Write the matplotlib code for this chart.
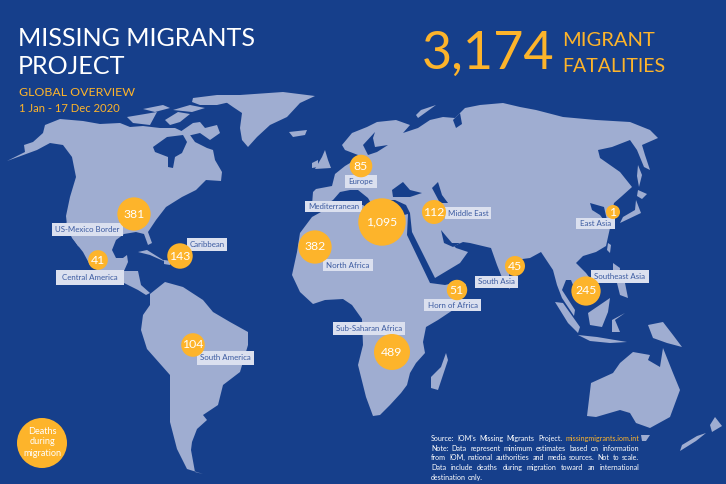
import numpy as np
import matplotlib
matplotlib.use('Agg')
import matplotlib.pyplot as plt
from matplotlib.patches import Circle, Polygon, Rectangle

# Values shown on the map
regions = ['Mediterranean', 'Sub-Saharan Africa', 'North Africa', 'US-Mexico Border',
           'Southeast Asia', 'Caribbean', 'Middle East', 'South America', 'Europe',
           'Horn of Africa', 'South Asia', 'Central America', 'East Asia']
deaths = [1095, 489, 382, 381, 245, 143, 112, 104, 85, 51, 45, 41, 1]
death_labels = ['1,095', '489', '382', '381', '245', '143', '112', '104', '85', '51', '45', '41', '1']

# Where each bubble sits on the map (pixels of the 726x484 image)
bubble_x = [382, 392, 315, 134, 586, 180, 434, 193, 361, 457, 515, 98, 613]
bubble_y = [222, 352, 247, 214, 291, 256, 212, 345, 166, 290, 266, 260, 212]

# Label boxes: left, right, top, bottom
box_left = [305, 333, 323, 52, 591, 187, 445, 197, 345, 424, 475, 56, 576]
box_right = [362, 405, 373, 123, 649, 227, 491, 254, 377, 481, 518, 124, 615]
box_top = [201, 322, 259, 223, 270, 238, 207, 351, 175, 299, 276, 270, 218]
box_bottom = [212, 335, 271, 236, 283, 251, 219, 365, 188, 311, 288, 285, 229]

# Rough land outlines
land = [
    # North America
    [(7,161),(25,152),(24,145),(33,142),(43,133),(45,125),(60,119),(83,121),(100,124),(120,123),
     (130,127),(143,126),(160,128),(175,128),(190,135),(195,142),(207,148),(213,150),(215,160),
     (222,172),(221,181),(206,180),(196,190),(182,197),(166,207),(156,220),(148,232),(152,243),
     (148,245),(144,234),(136,232),(124,234),(116,240),(112,250),(116,258),(123,258),(127,255),
     (128,262),(124,271),(138,271),(141,285),(150,293),(146,295),(138,290),(130,286),(122,282),
     (106,276),(90,265),(83,252),(72,238),(67,225),(66,216),(70,197),(76,177),(72,157),(63,145),
     (50,143),(37,150)],
    # Baja California
    [(66,222),(74,232),(82,248),(78,246),(70,234)],
    # Greenland
    [(223,100),(240,95),(283,92),(315,96),(300,103),(287,117),(270,125),(257,137),(248,147),
     (242,140),(240,128),(242,113),(233,107)],
    # Arctic islands
    [(180,132),(193,123),(200,122),(205,128),(217,125),(220,133),(210,140),(200,133),(183,137)],
    [(127,117),(157,112),(150,125),(133,123)],
    [(143,109),(163,105),(170,108),(155,112)],
    [(165,120),(178,112),(190,114),(180,122),(170,125)],
    [(193,98),(217,95),(248,95),(230,102),(217,105),(200,105),(192,102)],
    [(173,110),(190,105),(205,108),(192,112)],
    # Iceland
    [(289,132),(307,130),(305,135),(293,137)],
    # Great Britain and Ireland
    [(325,150),(328,160),(331,168),(315,169),(322,157)],
    [(312,163),(318,160),(318,167),(312,168)],
    # Eurasia
    [(313,192),(316,189),(332,186),(335,174),(345,166),(355,160),(358,155),(345,150),(342,145),
     (352,133),(367,127),(377,122),(396,120),(410,125),(403,133),(418,128),(430,120),(443,117),
     (455,118),(465,108),(480,105),(503,103),(520,107),(536,110),(563,117),(596,120),(630,122),
     (650,130),(658,138),(642,145),(645,155),(650,170),(644,167),(637,150),(630,140),(612,147),
     (598,150),(600,158),(620,172),(632,187),(622,196),(614,203),(611,217),(607,220),(604,207),
     (590,203),(592,210),(600,215),(610,228),(606,246),(596,252),(583,256),(576,263),(586,273),
     (597,288),(588,303),(578,297),(571,280),(566,280),(562,290),(575,310),(574,316),(562,298),
     (557,285),(553,270),(541,252),(530,258),(515,260),(509,275),(510,289),(505,285),(497,265),
     (491,248),(470,243),(463,242),(452,247),(443,238),(441,232),(450,242),(456,248),(468,252),
     (460,263),(435,278),(412,232),(410,213),(406,205),(395,200),(385,200),(375,200),(372,205),
     (368,198),(358,190),(350,190),(340,192),(333,200),(325,205),(312,205)],
    # Africa
    [(312,217),(330,207),(363,205),(372,213),(385,220),(408,214),(407,235),(430,283),(445,285),
     (458,282),(466,284),(460,296),(453,310),(438,320),(426,327),(423,342),(425,353),(416,363),
     (410,373),(407,385),(401,393),(390,405),(380,415),(373,416),(366,397),(363,385),(358,365),
     (363,345),(362,319),(352,305),(343,299),(325,300),(313,304),(300,292),(292,275),(297,252),(300,233)],
    # Madagascar
    [(446,353),(448,360),(438,390),(431,388),(431,377),(441,367)],
    # South America
    [(150,294),(165,282),(183,287),(203,300),(213,312),(230,322),(248,332),(248,345),(240,372),
     (223,385),(218,405),(203,415),(207,420),(197,429),(192,442),(191,450),(195,472),(203,474),
     (187,469),(177,449),(170,422),(170,375),(147,349),(141,330),(143,315),(150,305)],
    # Australia, Tasmania, New Zealand
    [(587,416),(591,383),(613,373),(620,363),(633,352),(650,355),(648,360),(660,367),(663,348),
     (673,373),(680,390),(670,417),(650,428),(636,423),(630,413),(620,410),(596,417)],
    [(641,435),(650,435),(646,441),(642,441)],
    [(715,417),(722,426),(712,432),(710,425)],
    [(706,433),(696,441),(680,451),(682,445),(697,436)],
    # Southeast Asia islands
    [(555,302),(563,303),(580,327),(578,333),(568,323)],
    [(578,335),(597,337),(627,342),(610,343),(590,341)],
    [(588,313),(610,298),(608,312),(602,327),(590,325)],
    [(612,320),(625,313),(615,320),(620,332),(612,332)],
    [(648,325),(663,322),(673,335),(682,347),(667,343),(653,338)],
    [(613,263),(620,268),(619,280),(613,276)],
    [(617,283),(625,283),(628,298),(620,295)],
    [(608,243),(611,245),(610,253),(607,250)],
    # Japan, Sakhalin
    [(636,200),(641,213),(620,223),(623,217),(635,210)],
    [(638,190),(647,194),(642,199),(637,196)],
    [(638,165),(642,175),(639,187),(637,176)],
    # Cuba, Hispaniola
    [(138,252),(147,250),(163,260),(168,263),(150,255)],
    [(164,260),(172,261),(170,265),(164,264)],
    # Novaya Zemlya
    [(418,118),(436,105),(421,110),(416,115)],
]

# Seas cut out of the land
water = [
    # Hudson Bay
    [(153,147),(167,137),(183,135),(187,142),(182,153),(175,157),(173,168),(168,167),(168,157),(155,152)],
    # Baltic
    [(375,132),(363,145),(368,155),(377,152),(388,145),(375,147),(373,138)],
    # Black Sea
    [(392,190),(403,182),(410,190),(422,193),(410,197),(393,197)],
    # Caspian
    [(432,188),(438,182),(442,195),(448,203),(440,203)],
    # Persian Gulf
    [(441,230),(446,236),(452,243),(460,243),(453,247),(444,243)],
    # Kara gulf
    [(453,120),(460,113),(462,124),(456,128)],
]

BACK = '#163f8b'
LAND = '#9fadd1'
GOLD = '#fdb42b'
LABEL = '#dbe0ef'
FONT = 'Lato'

fig = plt.figure(figsize=(7.26, 4.84), dpi=100, facecolor=BACK)
ax = fig.add_axes([0, 0, 1, 1])
ax.set_xlim(0, 726)
ax.set_ylim(484, 0)
ax.axis('off')

for shape in land:
    ax.add_patch(Polygon(shape, closed=True, fc=LAND, ec='none', zorder=1))
for shape in water:
    ax.add_patch(Polygon(shape, closed=True, fc=BACK, ec='none', zorder=1.5))

# Label boxes sit under the bubbles
for name, l, r, t, b in zip(regions, box_left, box_right, box_top, box_bottom):
    ax.add_patch(Rectangle((l, t), r - l, b - t, fc=LABEL, ec='none', zorder=2))
    ax.text((l + r) / 2, (t + b) / 2, name, color='#3b5aa0', fontsize=5.7, family=FONT,
            ha='center', va='center', zorder=3)

# Bubbles, radius grows with the square root of the count
for x, y, v, lab in zip(bubble_x, bubble_y, deaths, death_labels):
    r = 6.5 + 0.52 * np.sqrt(v)
    ax.add_patch(Circle((x, y), r, fc=GOLD, ec='none', zorder=4))
    ax.text(x, y, lab, color='white', fontsize=8.8, family=FONT, ha='center', va='center', zorder=5)

# Legend bubble
ax.add_patch(Circle((42, 443), 25, fc=GOLD, ec='none', zorder=4))
for y, word in zip([431, 442, 454], ['Deaths', 'during', 'migration']):
    ax.text(42, y, word, color='white', fontsize=6.6, family=FONT, ha='center', va='center', zorder=5)

# Titles
ax.text(18, 38, 'MISSING MIGRANTS', color='white', fontsize=18.1, family=FONT, ha='left', va='center')
ax.text(18, 66, 'PROJECT', color='white', fontsize=18.1, family=FONT, ha='left', va='center')
ax.text(19, 93, 'GLOBAL OVERVIEW', color=GOLD, fontsize=8.9, family=FONT, ha='left', va='center')
ax.text(19, 109, '1 Jan - 17 Dec 2020', color=GOLD, fontsize=8.1, family=FONT, ha='left', va='center')
ax.text(422, 54, '3,174', color=GOLD, fontsize=37.5, family=FONT, ha='left', va='center')
ax.text(562, 40, 'MIGRANT', color=GOLD, fontsize=14.5, family=FONT, ha='left', va='center')
ax.text(562, 67, 'FATALITIES', color=GOLD, fontsize=14, family=FONT, ha='left', va='center')

# Source note, justified like the original
note_lines = [
    "Source: IOM's Missing Migrants Project. missingmigrants.iom.int",
    'Note: Data represent minimum estimates based on information',
    'from IOM, national authorities and media sources. Not to scale.',
    'Data include deaths during migration toward an international',
    'destination only.',
]
note_y = [441, 451, 460, 470, 480]
NOTE_L, NOTE_R = 431, 639
renderer = fig.canvas.get_renderer()
for line, y in zip(note_lines, note_y):
    words = line.split(' ')
    items = []
    for w in words:
        c = GOLD if 'iom.int' in w else 'white'
        items.append(ax.text(NOTE_L, y, w, color=c, fontsize=5.1, family=FONT, ha='left', va='baseline', zorder=5))
    widths = [t.get_window_extent(renderer).width for t in items]
    if line.endswith('only.'):
        gap = 2.0
    else:
        gap = (NOTE_R - NOTE_L - sum(widths)) / (len(words) - 1)
    x = NOTE_L
    for t, w in zip(items, widths):
        t.set_x(x)
        x += w + gap

fig.savefig('out.png', dpi=100, facecolor=BACK)
